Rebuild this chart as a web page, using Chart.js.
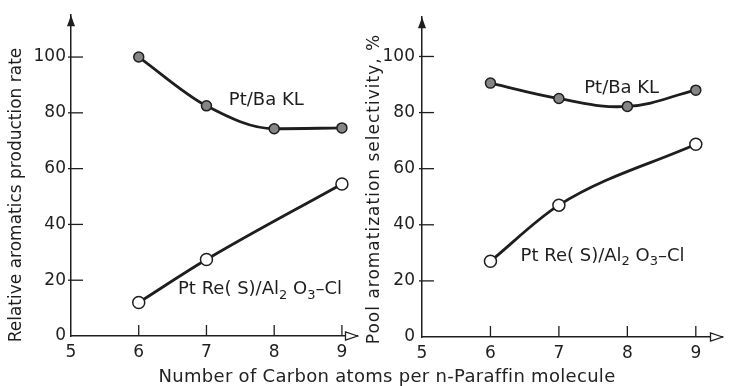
<!DOCTYPE html>
<html>
<head>
  <title>Aromatization vs carbon number</title>
  <script src="https://cdn.jsdelivr.net/npm/chart.js"></script>
  <style>
    body { margin: 0; background: #fff; }
    #wrap { position: relative; width: 730px; height: 386px; }
    canvas { position: absolute; top: 0; }
    #left { left: 0; }
    #right { left: 365px; }
    #xtitle {
      position: absolute; left: 0; width: 774px; top: 365px;
      text-align: center; font: 18px "DejaVu Sans"; color: #222; letter-spacing: 0.3px;
    }
  </style>
</head>
<body>
  <div id="wrap">
    <canvas id="left" width="365" height="386"></canvas>
    <canvas id="right" width="365" height="386"></canvas>
    <div id="xtitle">Number of Carbon atoms per n-Paraffin molecule</div>
  </div>

  <script>
    // carbon number of the n-paraffin
    const carbonsBaKL = [6, 7, 8, 9];
    const carbonsPtRe = [6, 7, 9];

    // left panel: relative aromatics production rate
    const rateBaKL = [100, 82.5, 74.3, 74.6];
    const ratePtRe = [12, 27.4, 54.5];

    // right panel: pool aromatization selectivity, %
    const selBaKL = [90.5, 85, 82.2, 88];
    const selPtRe = [27, 47, 68.7];

    const xTicks = [5, 6, 7, 8, 9];
    const yTicks = [0, 20, 40, 60, 80, 100];

    const ink = '#1e1e1e';
    const font = { family: 'DejaVu Sans', size: 17 };

    const pts = (xs, ys) => xs.map((x, i) => ({ x, y: ys[i] }));

    function baklSet(ys, mode) {
      return {
        data: pts(carbonsBaKL, ys), borderColor: ink, borderWidth: 2.8,
        tension: 0.4, cubicInterpolationMode: mode,
        pointRadius: 5, pointBackgroundColor: '#858585', pointBorderColor: ink, pointBorderWidth: 1.5
      };
    }
    function ptreSet(ys, tension) {
      return {
        data: pts(carbonsPtRe, ys), borderColor: ink, borderWidth: 2.8,
        tension, cubicInterpolationMode: 'monotone',
        pointRadius: 6, pointBackgroundColor: '#fff', pointBorderColor: ink, pointBorderWidth: 1.5
      };
    }

    function drawParts(ctx, parts, x, y) {
      // parts: [text, isSubscript]
      ctx.textBaseline = 'middle';
      ctx.textAlign = 'left';
      parts.forEach(([t, sub]) => {
        ctx.font = (sub ? 13 : 18) + 'px "DejaVu Sans"';
        ctx.fillText(t, x, sub ? y + 6 : y);
        x += ctx.measureText(t).width;
      });
    }

    const decor = {
      id: 'decor',
      afterDatasetsDraw(chart, args, o) {
        const { ctx, chartArea: a, scales: { x, y } } = chart;
        ctx.save();
        ctx.strokeStyle = ink;
        ctx.fillStyle = ink;
        ctx.lineWidth = 1.3;
        // tick marks pointing into the plot
        [6, 7, 8, 9].forEach(v => {
          const px = x.getPixelForValue(v);
          ctx.beginPath(); ctx.moveTo(px, a.bottom); ctx.lineTo(px, a.bottom - 11); ctx.stroke();
        });
        [20, 40, 60, 80, 100].forEach(v => {
          const py = y.getPixelForValue(v);
          ctx.beginPath(); ctx.moveTo(a.left - 3, py); ctx.lineTo(a.left + 12, py); ctx.stroke();
        });
        // axis arrows
        ctx.beginPath();
        ctx.moveTo(a.left, a.top); ctx.lineTo(a.left - 4, a.top + 11); ctx.lineTo(a.left + 4, a.top + 11);
        ctx.closePath(); ctx.fill();
        ctx.fillStyle = '#fff';
        ctx.beginPath();
        ctx.moveTo(a.right, a.bottom); ctx.lineTo(a.right - 12, a.bottom - 4); ctx.lineTo(a.right - 12, a.bottom + 4);
        ctx.closePath(); ctx.fill(); ctx.stroke();
        ctx.fillStyle = ink;
        // curve labels
        o.labels.forEach(l => drawParts(ctx, l.parts, x.getPixelForValue(l.x), y.getPixelForValue(l.y)));
        // y axis title
        ctx.translate(o.title.x, o.title.y);
        ctx.rotate(-Math.PI / 2);
        ctx.font = '17px "DejaVu Sans"';
        ctx.letterSpacing = o.title.spacing;
        ctx.textAlign = 'center';
        ctx.textBaseline = 'middle';
        ctx.fillText(o.title.text, 0, 0);
        ctx.restore();
      }
    };

    const ptreParts = [['Pt Re( S)/Al', false], ['2', true], [' O', false], ['3', true], ['–Cl', false]];

    function makeChart(id, datasets, cfg) {
      return new Chart(document.getElementById(id), {
        type: 'line',
        data: { datasets },
        plugins: [decor],
        options: {
          responsive: false,
          animation: false,
          layout: { padding: { top: cfg.top, right: cfg.right, left: 0, bottom: 0 } },
          plugins: {
            legend: { display: false },
            tooltip: { enabled: false },
            decor: cfg.decor
          },
          scales: {
            x: {
              type: 'linear', min: 5, max: cfg.xMax,
              afterFit: s => { s.height = cfg.xh; },
              afterBuildTicks: s => { s.ticks = xTicks.map(v => ({ value: v })); },
              grid: { display: false, drawTicks: false },
              border: { color: ink, width: 1.5 },
              ticks: { font, color: ink, padding: 6, maxRotation: 0 }
            },
            y: {
              min: 0, max: cfg.yMax,
              afterFit: s => { s.width = cfg.yw; },
              afterBuildTicks: s => { s.ticks = yTicks.map(v => ({ value: v })); },
              grid: { display: false, drawTicks: false },
              border: { color: ink, width: 1.5 },
              ticks: { font, color: ink, padding: cfg.ypad }
            }
          }
        }
      });
    }

    makeChart('left', [baklSet(rateBaKL, 'monotone'), ptreSet(ratePtRe, 0)], {
      top: 12, right: 0, xMax: 9.23, yMax: 115, xh: 50, yw: 71, ypad: 5,
      decor: {
        title: { text: 'Relative aromatics production rate', x: 17, y: 195, spacing: '0px' },
        labels: [
          { parts: [['Pt/Ba KL', false]], x: 7.33, y: 84.4 },
          { parts: ptreParts, x: 6.58, y: 16.7 }
        ]
      }
    });

    makeChart('right', [baklSet(selBaKL, 'default'), ptreSet(selPtRe, 0.4)], {
      top: 13, right: 2, xMax: 9.39, yMax: 114, xh: 49, yw: 57, ypad: 7,
      decor: {
        title: { text: 'Pool aromatization selectivity, %', x: 10, y: 189, spacing: '1px' },
        labels: [
          { parts: [['Pt/Ba KL', false]], x: 7.37, y: 88.7 },
          { parts: ptreParts, x: 6.44, y: 28.9 }
        ]
      }
    });
  </script>
</body>
</html>
